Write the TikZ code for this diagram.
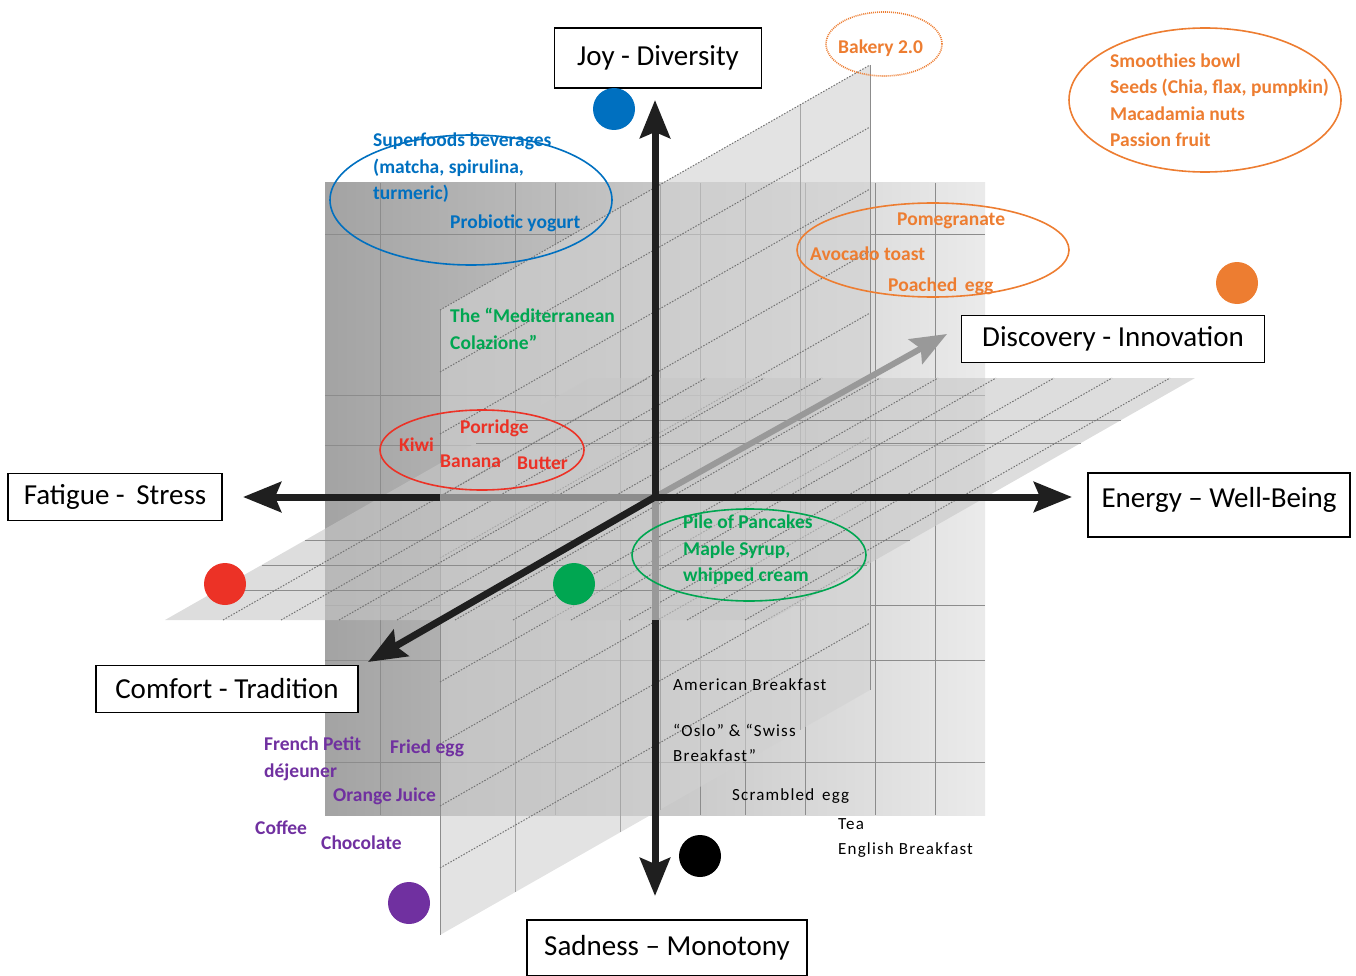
\documentclass[tikz,border=0pt]{standalone}
\usepackage{fontspec}
\setmainfont{Carlito}
\newfontfamily\plainspaced{Carlito}[LetterSpace=7]
\usetikzlibrary{arrows.meta,shapes.geometric}
\definecolor{joyblue}{RGB}{0,112,192}
\definecolor{discorange}{RGB}{237,125,49}
\definecolor{stressred}{RGB}{236,50,38}
\definecolor{comfgreen}{RGB}{0,166,81}
\definecolor{tradpurple}{RGB}{112,48,160}
\begin{document}
\begin{tikzpicture}[x=1pt,y=-1pt,
axislabel/.style={draw=black,line width=1.8pt,fill=white,inner sep=0pt,font=\fontsize{29}{32}\selectfont,text=black},
food/.style={anchor=west,inner sep=0pt,align=left,font=\bfseries\fontsize{19.5}{26.5}\selectfont},
plainfood/.style={anchor=west,inner sep=0pt,align=left,font=\plainspaced\fontsize{17}{25}\selectfont,text=black},
group/.style={ellipse,draw,line width=1.6pt,inner sep=0pt},
dot/.style={circle,inner sep=0pt,minimum size=42pt},
axis/.style={line width=7pt,black!88,-{Stealth[length=38pt,width=30pt,inset=6pt]}},
grid/.style={black!45,line width=1pt},
dotline/.style={black!55,line width=1pt,dash pattern=on 1.5pt off 1.5pt}
]
\useasboundingbox (0,0) rectangle (1356,976);
% background planes
\fill[left color=black!36,right color=black!8] (325,183) rectangle (985,815);
\foreach \gx in {380,515,555,700,745,805,875,935}
  \draw[grid] (\gx,183) -- (\gx,815);
\foreach \gy in {235,395,445,605,660,762}
  \draw[grid] (325,\gy) -- (985,\gy);
\fill[black!18,opacity=.6] (440,310) -- (870,65) -- (870,690) -- (440,935) -- cycle;
\draw[grid] (440,310) -- (440,935);
\draw[grid] (870,65) -- (870,690);
\foreach \gx/\gt/\gb in {515/267/892,620/207/832,660/185/810,800/105/730}
  \draw[grid,black!35] (\gx,\gt) -- (\gx,\gb);
\foreach \k in {0,...,9}
  \draw[dotline] (440,310+\k*62) -- (870,65+\k*62);
\fill[black!22,opacity=.6] (165,620) -- (770,620) -- (1195,378) -- (590,378) -- cycle;
\foreach \gy/\gl/\gr in {590/218/823,565/262/867,540/305/910,443/476/1081,420/516/1121}
  \draw[grid] (\gl,\gy) -- (\gr,\gy);
\foreach \k in {1,...,10}
  \draw[dotline] (165+\k*58,620) -- (590+\k*58,378);
% axes
\coordinate (o) at (655,497);
\coordinate (joytip) at (655,100);
\coordinate (sadcut) at (655,620);
\coordinate (sadtip) at (655,896);
\coordinate (leftcut) at (440,497);
\coordinate (stresstip) at (243,497);
\coordinate (energytip) at (1072,497);
\coordinate (comforttip) at (368,662);
\coordinate (discotip) at (947,334);
\draw[line width=6pt,black!40,-{Stealth[length=36pt,width=28pt,inset=6pt]}] (o) -- (discotip);
\draw[line width=7pt,black!40] (o) -- (sadcut);
\draw[line width=7pt,black!45] (o) -- (leftcut);
\draw[axis] (o) -- (joytip);
\draw[axis] (sadcut) -- (sadtip);
\draw[axis] (leftcut) -- (stresstip);
\draw[axis] (o) -- (energytip);
\draw[axis] (o) -- (comforttip);
% axis labels
\node[axislabel,minimum width=207,minimum height=60] (joy) at (658,58) {Joy - Diversity\hspace{14pt}};
\node[axislabel,minimum width=303,minimum height=47] (disco) at (1113,339) {Discovery - Innovation\hspace{8pt}};
\node[axislabel,minimum width=214,minimum height=47] (stress) at (115,497) {Fatigue -\, Stress};
\node[axislabel,minimum width=262,minimum height=64,text depth=16pt] (energy) at (1219,505) {Energy -- Well-Being};
\node[axislabel,minimum width=262,minimum height=47] (comfort) at (227,689) {Comfort - Tradition\hspace{4pt}};
\node[axislabel,minimum width=280,minimum height=56] (sad) at (667,948) {Sadness -- Monotony\hspace{8pt}};
% dots
\node[dot,fill=joyblue] (joydot) at (614,109) {};
\node[dot,fill=discorange] (discodot) at (1237,283) {};
\node[dot,fill=stressred] (stressdot) at (225,584) {};
\node[dot,fill=comfgreen] (comfdot) at (574,584) {};
\node[dot,fill=black] (saddot) at (700,856) {};
\node[dot,fill=tradpurple] (tradot) at (409,903) {};
% groups
\node[group,draw=joyblue,minimum width=282,minimum height=130] (joyset) at (471,200) {};
\node[group,draw=discorange,dash pattern=on 1pt off 1pt,minimum width=116,minimum height=64] (bakeset) at (884,44) {};
\node[group,draw=discorange,minimum width=272,minimum height=144] (seedset) at (1205,100) {};
\node[group,draw=discorange,minimum width=272,minimum height=94] (avoset) at (933,250) {};
\node[group,draw=stressred,minimum width=204,minimum height=80] (stresset) at (482,450) {};
\node[group,draw=comfgreen,minimum width=234,minimum height=92] (pancset) at (749,555) {};
% food items
\node[food,text=joyblue] (superfoods) at (373,168) {Superfoods beverages\\(matcha, spirulina,\\turmeric)};
\node[food,text=joyblue] (yogurt) at (450,223) {Probiotic yogurt};
\node[food,text=comfgreen] (medit) at (450,329) {The “Mediterranean\\Colazione”};
\node[food,text=stressred] (porridge) at (460,428) {Porridge};
\node[food,text=stressred] (kiwi) at (399,445) {Kiwi};
\node[food,text=stressred] (banana) at (440,461) {Banana};
\node[food,text=stressred] (butter) at (517,463) {Butter};
\node[food,text=discorange] (bakery) at (838,48) {Bakery 2.0};
\node[food,text=discorange] (smoothies) at (1110,100) {Smoothies bowl\\Seeds (Chia, flax, pumpkin)\\Macadamia nuts\\Passion fruit};
\node[food,text=discorange] (pomegr) at (897,221) {Pomegranate};
\node[food,text=discorange] (avocado) at (810,254) {Avocado toast};
\node[food,text=discorange] (poached) at (888,286) {Poached\, egg};
\node[food,text=comfgreen] (pancakes) at (683,550) {Pile of Pancakes\\Maple Syrup,\\whipped cream};
\node[plainfood] (american) at (673,685) {American Breakfast};
\node[plainfood] (oslo) at (673,743) {“Oslo” \& “Swiss\\Breakfast”};
\node[plainfood] (scrambled) at (732,796) {Scrambled\, egg};
\node[plainfood] (tea) at (838,838) {Tea\\English Breakfast};
\node[food,text=tradpurple] (french) at (264,759) {French Petit\\déjeuner};
\node[food,text=tradpurple] (fried) at (390,748) {Fried egg};
\node[food,text=tradpurple] (orange) at (333,796) {Orange Juice};
\node[food,text=tradpurple] (coffee) at (255,828) {Coffee};
\node[food,text=tradpurple] (chocolate) at (321,843) {Chocolate};
\end{tikzpicture}
\end{document}
